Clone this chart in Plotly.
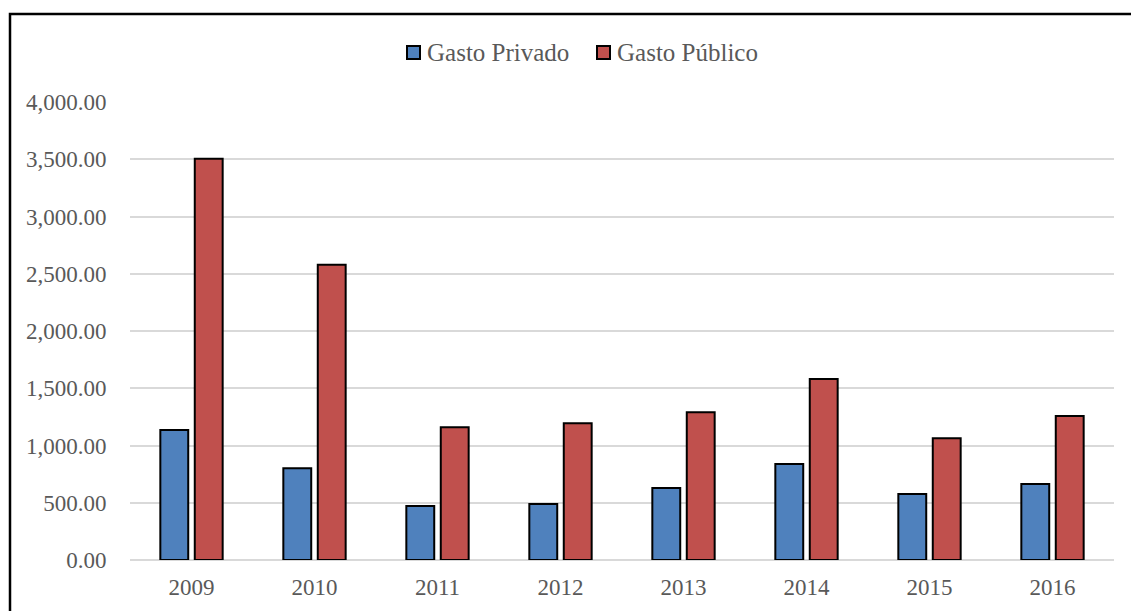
import plotly.graph_objects as go

years = ["2009", "2010", "2011", "2012", "2013", "2014", "2015", "2016"]
gasto_privado = [1135, 801, 472, 489, 629, 838, 576, 664]
gasto_publico = [3505, 2579, 1159, 1194, 1290, 1581, 1063, 1258]
y_ticks = [0, 500, 1000, 1500, 2000, 2500, 3000, 3500, 4000]

FONT = "Liberation Serif"
TEXT = "#595959"
BLUE = "#4F81BD"
RED = "#C0504D"

series = [("Gasto Privado", gasto_privado, BLUE),
          ("Gasto Público", gasto_publico, RED)]

fig = go.Figure()
for name, vals, color in series:
    fig.add_trace(go.Bar(
        x=years, y=vals, name=name, showlegend=False,
        marker=dict(color=color, line=dict(color="black", width=2)),
    ))

W, H = 1131, 611
L, R, T, B = 130, 17, 102, 51
pw, ph = W - L - R, H - T - B


def px(x):
    return (x - L) / pw


def py(y):
    return 1 + (T - y) / ph


# outer frame (left and top edges visible)
fig.add_shape(type="path", xref="paper", yref="paper",
              path=f"M {px(10)} -0.3 L {px(10)} {py(14)} L 1.1 {py(14)}",
              line=dict(color="black", width=2.5))

# legend: swatch + label for each series
legend_x = [407, 597]
for (name, _, color), x0 in zip(series, legend_x):
    fig.add_shape(type="rect", xref="paper", yref="paper",
                  x0=px(x0), x1=px(x0 + 13), y0=py(59), y1=py(46),
                  fillcolor=color, line=dict(color="black", width=2))
    fig.add_annotation(xref="paper", yref="paper", x=px(x0 + 18), y=py(52),
                       xanchor="left", yanchor="middle", showarrow=False,
                       text=name,
                       font=dict(family=FONT, size=25, color=TEXT))

fig.update_layout(
    width=W, height=H,
    margin=dict(l=L, r=R, t=T, b=B, pad=0, autoexpand=False),
    paper_bgcolor="white", plot_bgcolor="white",
    barmode="group", bargap=0.44, bargroupgap=0.19,
    font=dict(family=FONT, size=23, color=TEXT),
    xaxis=dict(showgrid=False, showline=False, ticks="outside", ticklen=6,
               tickcolor="rgba(0,0,0,0)", automargin=False,
               tickfont=dict(family=FONT, size=23, color=TEXT)),
    yaxis=dict(range=[0, 4000], tickvals=y_ticks,
               ticktext=[f"{v:,.2f}" for v in y_ticks],
               showgrid=True, gridcolor="#D9D9D9", gridwidth=2,
               zeroline=True, zerolinecolor="#D9D9D9", zerolinewidth=2,
               showline=False, ticks="outside", ticklen=18,
               tickcolor="rgba(0,0,0,0)", automargin=False,
               tickfont=dict(family=FONT, size=23, color=TEXT)),
)

fig.write_html("out.html")
